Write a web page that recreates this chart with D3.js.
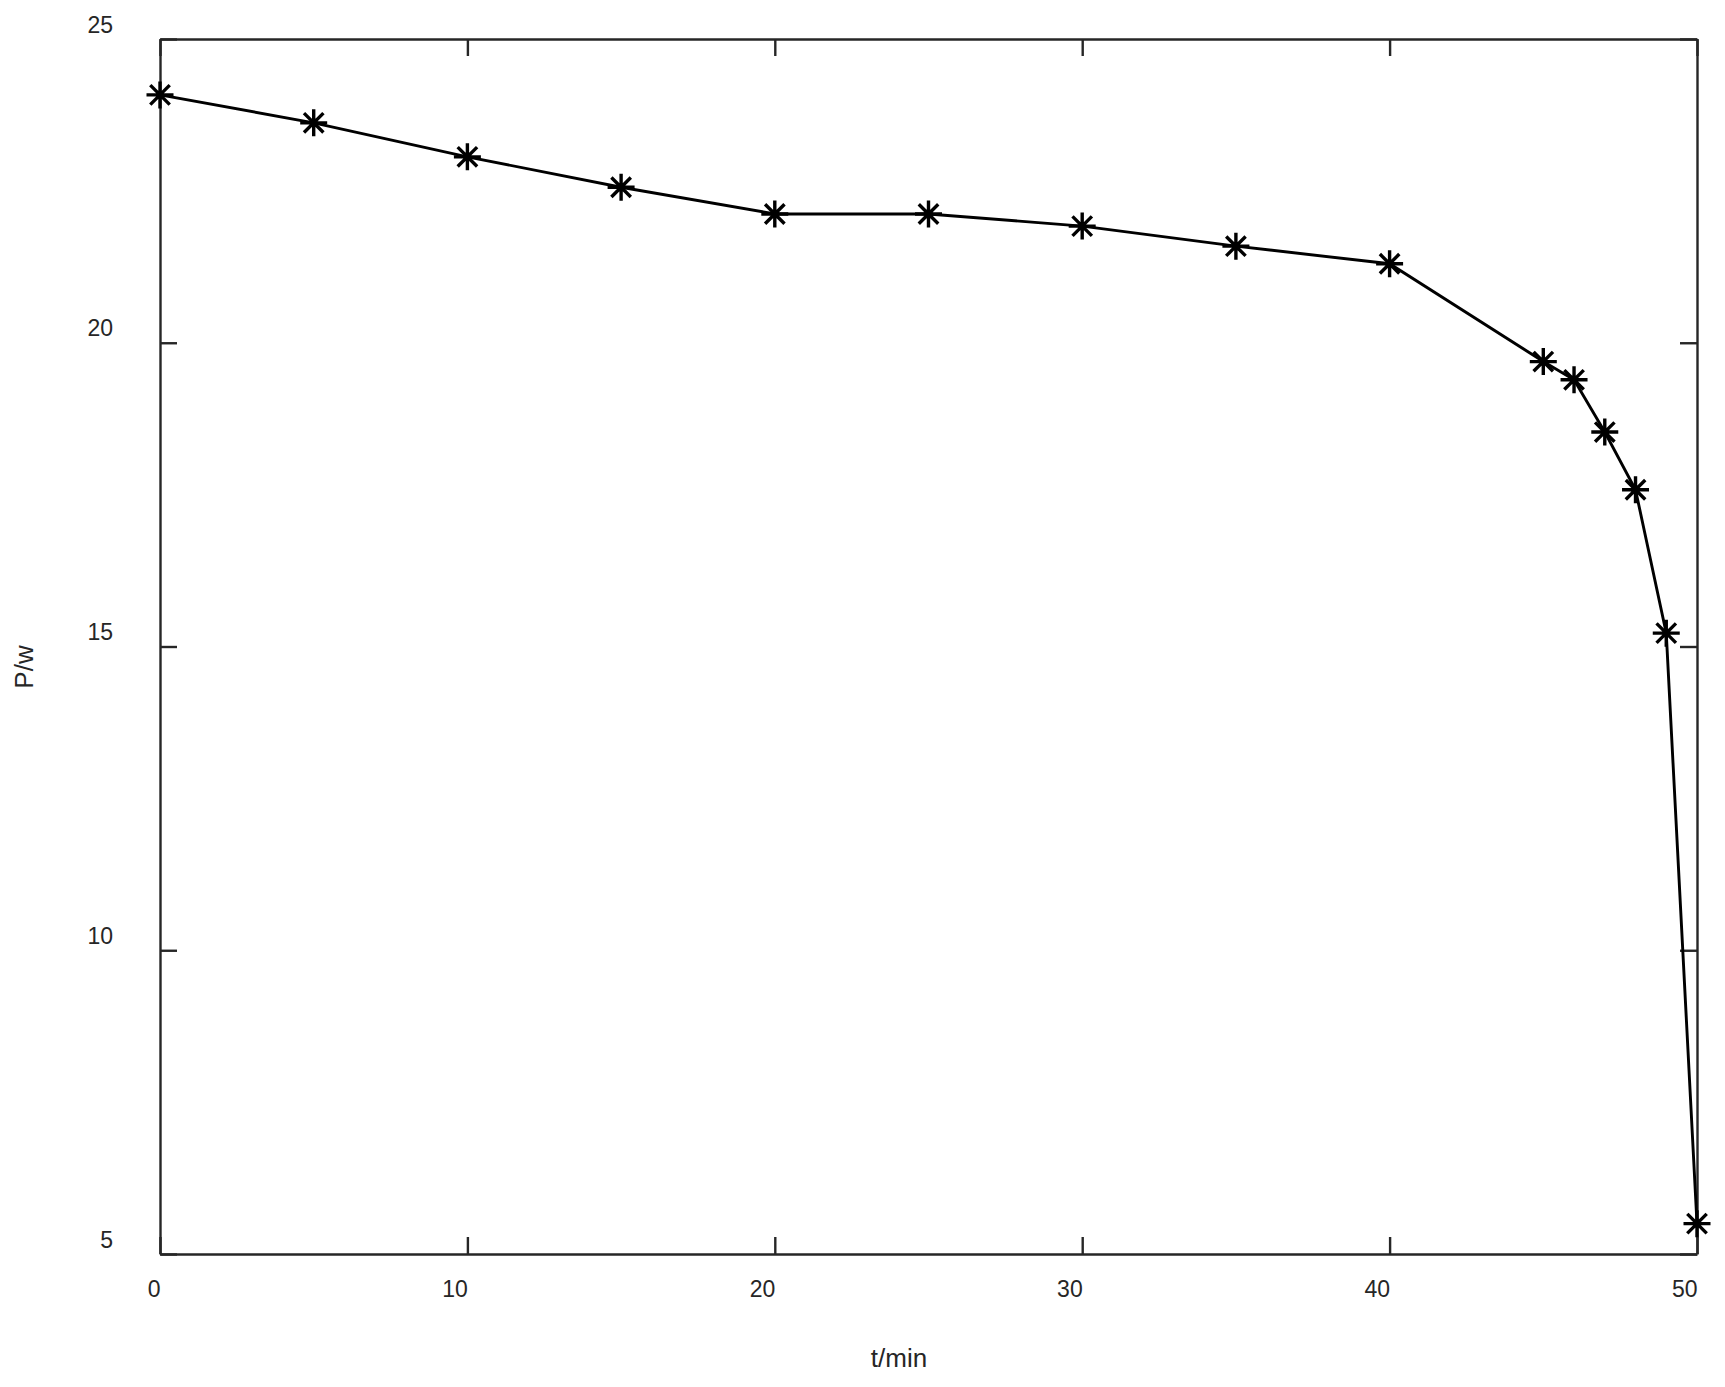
<!DOCTYPE html>
<html>
<head>
<meta charset="utf-8">
<script src="https://cdn.jsdelivr.net/npm/d3@7"></script>
<style>
  body { margin: 0; background: #fff; }
  svg text { font-family: "Liberation Sans", Arial, sans-serif; fill: #262626; }
</style>
</head>
<body>
<svg id="chart" width="1725" height="1387"></svg>
<script>
// power vs time readings
var tMin = [0, 5, 10, 15, 20, 25, 30, 35, 40, 45, 46, 47, 48, 49, 50];
var pW = [24.08, 23.62, 23.06, 22.56, 22.12, 22.12, 21.92, 21.59, 21.30, 19.69, 19.39, 18.53, 17.58, 15.22, 5.50];
var xTicks = [0, 10, 20, 30, 40, 50];
var yTicks = [5, 10, 15, 20, 25];

var svg = d3.select("#chart");
var margin = {top: 39, right: 28, bottom: 133, left: 160};
var width = 1725 - margin.left - margin.right,
    height = 1387 - margin.top - margin.bottom;

var g = svg.append("g").attr("transform", "translate(" + margin.left + "," + margin.top + ")");

var x = d3.scaleLinear().domain([0, 50]).range([0, width]);
var y = d3.scaleLinear().domain([5, 25]).range([height, 0]);

// box with inward ticks on all four sides
var xaxis = g.append("g")
  .attr("transform", "translate(0," + height + ")")
  .call(d3.axisBottom(x).tickValues(xTicks).tickSizeInner(-17).tickSizeOuter(0).tickFormat(d3.format("d")));
xaxis.selectAll("text")
  .attr("text-anchor", "end")
  .attr("x", 0)
  .attr("y", 43)
  .attr("dy", 0)
  .style("font-size", "23px");

var yaxis = g.append("g")
  .call(d3.axisLeft(y).tickValues(yTicks).tickSizeInner(-17).tickSizeOuter(0).tickFormat(d3.format("d")));
yaxis.selectAll("text")
  .attr("text-anchor", "end")
  .attr("x", -47)
  .attr("y", -7)
  .attr("dy", 0)
  .style("font-size", "23px");

g.append("g")
  .call(d3.axisTop(x).tickValues(xTicks).tickSizeInner(-17).tickSizeOuter(0).tickFormat(""));
g.append("g")
  .attr("transform", "translate(" + width + ",0)")
  .call(d3.axisRight(y).tickValues(yTicks).tickSizeInner(-17).tickSizeOuter(0).tickFormat(""));

g.selectAll(".domain, .tick line")
  .attr("stroke", "#262626")
  .attr("stroke-width", 2.4);

// axis titles
svg.append("text")
  .text("t/min")
  .attr("x", 899)
  .attr("y", 1367)
  .attr("text-anchor", "middle")
  .style("font-size", "26px");

svg.append("text")
  .text("P/w")
  .attr("transform", "translate(33,667)rotate(-90)")
  .attr("text-anchor", "middle")
  .style("font-size", "26px");

// data line
var pts = tMin.map(function(t, i) { return {t: t, p: pW[i]}; });

var line = d3.line()
  .x(function(d) { return x(d.t); })
  .y(function(d) { return y(d.p); });

g.append("path")
  .datum(pts)
  .attr("d", line)
  .attr("fill", "none")
  .attr("stroke", "#000")
  .attr("stroke-width", 2.9);

// asterisk markers
function asterisk(r) {
  var d = r * 0.72;
  return "M" + -r + ",0L" + r + ",0M0," + -r + "L0," + r +
         "M" + -d + "," + -d + "L" + d + "," + d +
         "M" + -d + "," + d + "L" + d + "," + -d;
}

g.selectAll("path.marker")
  .data(pts)
  .enter().append("path")
  .attr("class", "marker")
  .attr("transform", function(d) { return "translate(" + x(d.t) + "," + y(d.p) + ")"; })
  .attr("d", asterisk(13.5))
  .attr("fill", "none")
  .attr("stroke", "#000")
  .attr("stroke-width", 3.4);
</script>
</body>
</html>
